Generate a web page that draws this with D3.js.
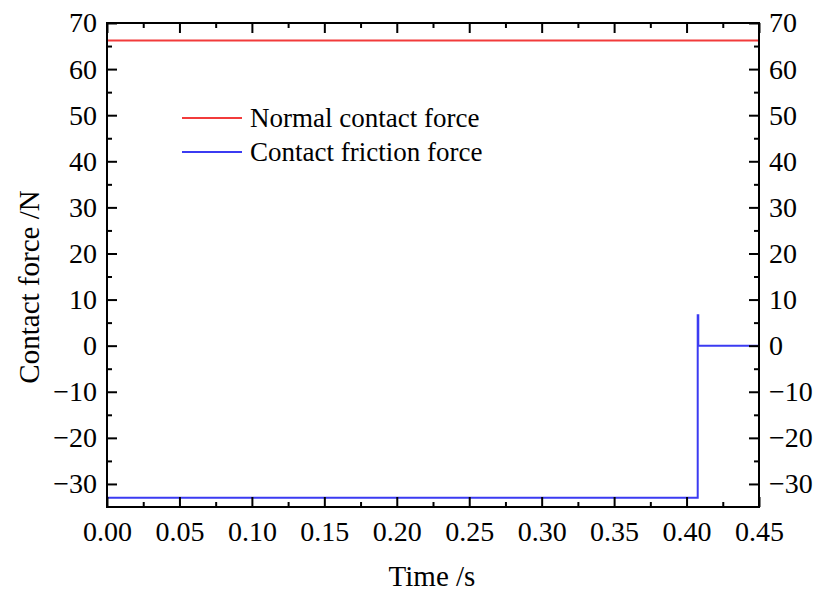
<!DOCTYPE html>
<html>
<head>
<meta charset="utf-8">
<script src="https://cdn.jsdelivr.net/npm/d3@7/dist/d3.min.js"></script>
<style>
  body { margin: 0; background: #fff; }
  svg { display: block; font-family: "Liberation Serif", "Times New Roman", serif; }
</style>
</head>
<body>
<svg id="chart" width="818" height="594"></svg>
<script>
// data
const seriesNames = ["Normal contact force", "Contact friction force"];
const seriesColors = ["#f23b3b", "#3b3bf2"];
const normalTime = [0, 0.45];
const normalForce = [66.2, 66.2];
const frictionTime = [0, 0.4077, 0.4077, 0.4081, 0.4081, 0.45];
const frictionForce = [-33, -33, 6.6, 6.6, 0, 0];
const xTicks = [0, 0.05, 0.1, 0.15, 0.2, 0.25, 0.3, 0.35, 0.4, 0.45];
const yTicks = [-30, -20, -10, 0, 10, 20, 30, 40, 50, 60, 70];

// layout
const width = 818, height = 594;
const m = { left: 107, right: 818 - 759, top: 23, bottom: 594 - 507 };
const iw = width - m.left - m.right;
const ih = height - m.top - m.bottom;

const svg = d3.select('#chart');
const g = svg.append('g').attr('transform', `translate(${m.left},${m.top})`);

const x = d3.scaleLinear().domain([0, 0.45]).range([0, iw]);
const y = d3.scaleLinear().domain([-35, 70]).range([ih, 0]);

const xMinor = d3.range(0.025, 0.45, 0.05);
const yMinor = d3.range(-35, 70, 5).filter(v => v % 10 !== 0 && v > -35);

const fmtX = d3.format('.2f');
const fmtY = v => v < 0 ? '\u2212' + Math.abs(v) : String(v);

// lines
const line = d3.line().x(d => x(d[0])).y(d => y(d[1]));
const series = [
  d3.zip(normalTime, normalForce),
  d3.zip(frictionTime, frictionForce)
];
g.selectAll('path.series')
  .data(series)
  .join('path')
  .attr('class', 'series')
  .attr('fill', 'none')
  .attr('stroke', (d, i) => seriesColors[i])
  .attr('stroke-width', 2)
  .attr('d', line);

// axes, ticks inward on all four sides
function tickAxis(axis, sel, major, minor, labels, pad) {
  sel.call(axis.tickValues(major).tickSize(-10).tickPadding(pad)
    .tickFormat(labels ? labels : ''));
  sel.attr('font-family', null).attr('font-size', null);
  sel.select('.domain').remove();
  sel.selectAll('.tick line').attr('stroke', '#000').attr('stroke-width', 2);
  sel.selectAll('.tick text').attr('fill', '#000').attr('font-size', 28);
  const mn = sel.append('g');
  mn.call(axis.tickValues(minor).tickSize(-5).tickFormat(''));
  mn.select('.domain').remove();
  mn.selectAll('.tick line').attr('stroke', '#000').attr('stroke-width', 2);
}

tickAxis(d3.axisBottom(x), g.append('g').attr('transform', `translate(0,${ih})`), xTicks, xMinor, fmtX, 14);
tickAxis(d3.axisTop(x), g.append('g'), xTicks, xMinor, null, 0);
tickAxis(d3.axisLeft(y), g.append('g'), yTicks, yMinor, fmtY, 10);
tickAxis(d3.axisRight(y), g.append('g').attr('transform', `translate(${iw},0)`), yTicks, yMinor, fmtY, 10);

// frame
g.append('rect')
  .attr('width', iw).attr('height', ih)
  .attr('fill', 'none').attr('stroke', '#000').attr('stroke-width', 2);

// axis titles
svg.append('text')
  .attr('x', 432).attr('y', 586)
  .attr('text-anchor', 'middle').attr('font-size', 29)
  .text('Time /s');
svg.append('text')
  .attr('transform', 'translate(39,287) rotate(-90)')
  .attr('text-anchor', 'middle').attr('font-size', 29)
  .text('Contact force /N');

// legend
const lg = svg.append('g').attr('transform', 'translate(182,118)');
const item = lg.selectAll('g').data(seriesNames).join('g')
  .attr('transform', (d, i) => `translate(0,${i * 34})`);
item.append('line')
  .attr('x1', 0).attr('x2', 60)
  .attr('stroke', (d, i) => seriesColors[i]).attr('stroke-width', 2);
item.append('text')
  .attr('x', 68).attr('dy', '0.35em').attr('font-size', 27)
  .text(d => d);
</script>
</body>
</html>
